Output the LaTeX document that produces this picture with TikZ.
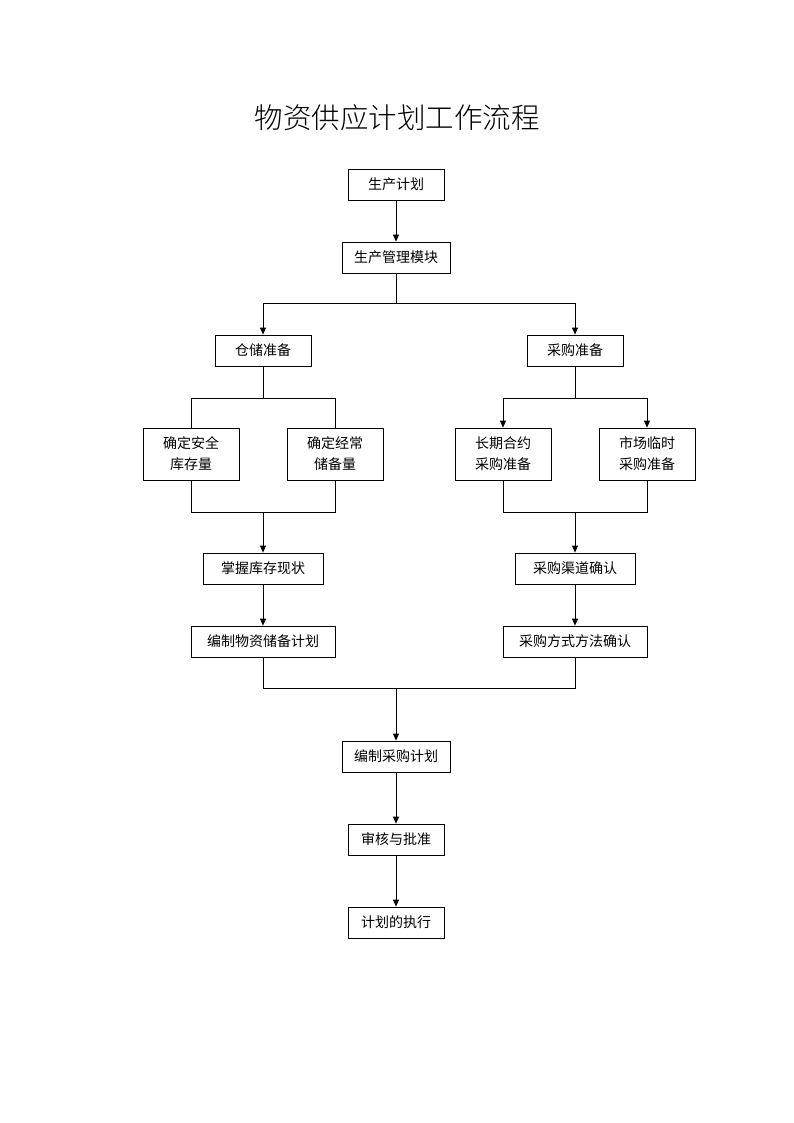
\documentclass[tikz,border=0pt]{standalone}
\usepackage{fontspec}
\setmainfont{Noto Sans CJK SC}
\newfontfamily\titlefont{Noto Sans CJK SC Light}
\usetikzlibrary{arrows.meta}
\begin{document}
\begin{tikzpicture}[x=1pt,y=-1pt,
  box/.style={draw,line width=0.8pt,inner sep=0pt,font=\fontsize{14}{21}\selectfont,align=center},
  b4/.style={box,minimum width=96pt,minimum height=31pt},
  b6/.style={box,minimum width=108pt,minimum height=31pt},
  b5/.style={box,minimum width=120pt,minimum height=31pt},
  b7/.style={box,minimum width=144pt,minimum height=31pt},
  b2/.style={box,minimum width=96pt,minimum height=52pt},
  ln/.style={line width=0.8pt},
  ar/.style={ln,-{Triangle[width=6pt,length=7pt]}}]
\useasboundingbox (0,0) rectangle (794,1123);
\node[font=\titlefont\fontsize{28.5}{32}\selectfont] (title) at (397,118) {物资供应计划工作流程};
\node[b4] (scjh) at (396,184.5) {生产计划};
\node[b6] (scgl) at (396,257.5) {生产管理模块};
\node[b4] (cczb) at (263,350.5) {仓储准备};
\node[b4] (cgzb) at (575,350.5) {采购准备};
\node[b2] (aq) at (191,454) {确定安全\\库存量};
\node[b2] (jc) at (335,454) {确定经常\\储备量};
\node[b2] (cq) at (503,454) {长期合约\\采购准备};
\node[b2] (ls) at (647,454) {市场临时\\采购准备};
\node[b5] (zw) at (263,568.5) {掌握库存现状};
\node[b7] (bz) at (263,641.5) {编制物资储备计划};
\node[b5] (qd) at (575,568.5) {采购渠道确认};
\node[b7] (ff) at (575,641.5) {采购方式方法确认};
\node[b6] (cgjh) at (396,756.5) {编制采购计划};
\node[b4] (sh) at (396,839.5) {审核与批准};
\node[b4] (zx) at (396,922.5) {计划的执行};
\coordinate (j1) at (396,303);
\coordinate (j2) at (396,688);
\draw[ar] (scjh) -- (scgl);
\draw[ln] (scgl) -- (j1);
\draw[ar] (j1) -| (cczb);
\draw[ar] (j1) -| (cgzb);
\draw[ln] (cczb.south) -- ++(0,32) -| (aq.north);
\draw[ln] (cczb.south) ++(0,32) -| (jc.north);
\draw[ar] (cgzb.south) -- ++(0,32) -| (cq.north);
\draw[ar] (cgzb.south) ++(0,32) -| (ls.north);
\draw[ln] (aq.south) -- ++(0,32) -| (jc.south);
\draw[ar] (263,512) -- (zw.north);
\draw[ln] (cq.south) -- ++(0,32) -| (ls.south);
\draw[ar] (575,512) -- (qd.north);
\draw[ar] (zw) -- (bz);
\draw[ar] (qd) -- (ff);
\draw[ln] (bz.south) -- ++(0,31) -| (ff.south);
\draw[ar] (j2) -- (cgjh);
\draw[ar] (cgjh) -- (sh);
\draw[ar] (sh) -- (zx);
\end{tikzpicture}
\end{document}
